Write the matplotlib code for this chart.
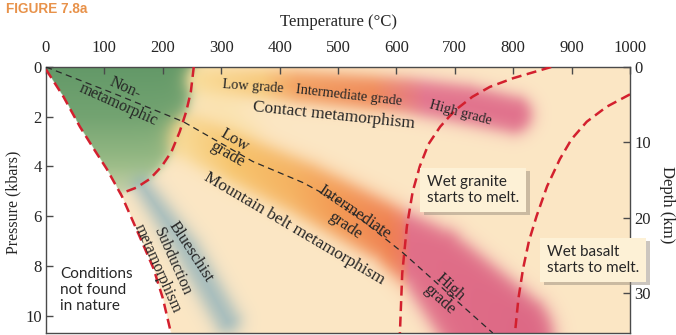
import numpy as np
import matplotlib
matplotlib.use("Agg")
import matplotlib.pyplot as plt
import matplotlib.patheffects as pe

# ---------------- data ----------------
temp_ticks = [0, 100, 200, 300, 400, 500, 600, 700, 800, 900, 1000]
pressure_ticks = [0, 2, 4, 6, 8, 10]
depth_ticks = [0, 10, 20, 30]
T_MAX = 1000
P_MAX = 10.7
KM_PER_KBAR = 3.3

# "conditions not found in nature" boundary (left red dashed)
nature_T = [0, 30, 58, 82, 104, 130, 160, 184, 200, 214]
nature_P = [0.1, 1.2, 2.4, 3.3, 4.1, 5.2, 6.8, 8.1, 9.3, 10.7]
# non-metamorphic boundary
nonmeta_T = [253, 248, 240, 229, 215, 198, 178, 155, 127]
nonmeta_P = [0.0, 1.0, 1.8, 2.6, 3.4, 4.0, 4.5, 4.85, 5.1]
# wet granite solidus
granite_T = [865, 800, 760, 730, 700, 675, 655, 640, 628, 618, 610, 606]
granite_P = [0.0, 0.45, 0.8, 1.2, 1.75, 2.4, 3.1, 4.0, 5.0, 6.4, 8.3, 10.7]
# wet basalt solidus
basalt_T = [1000, 960, 926, 900, 880, 858, 840, 827, 817, 809, 803]
basalt_P = [1.1, 1.6, 2.2, 2.9, 3.7, 4.8, 6.0, 7.0, 8.1, 9.3, 10.7]
# geotherm (black dashed)
geotherm_T = [0, 120, 235, 354, 440, 503, 610, 765]
geotherm_P = [0.0, 1.1, 2.2, 3.8, 4.65, 5.45, 7.45, 10.7]

# metamorphic bands (centre lines)
contact_T = [262, 400, 520, 620, 720, 800]
contact_P = [0.5, 0.72, 0.95, 1.15, 1.5, 1.9]
mountain_T = [248, 440, 590, 665, 780]
mountain_P = [2.85, 4.9, 6.75, 7.9, 10.9]
blueschist_T = [165, 240, 310]
blueschist_P = [4.8, 7.3, 10.2]

# ---------------- figure ----------------
W, H = 676, 335
fig = plt.figure(figsize=(W / 100, H / 100), dpi=100)
fig.patch.set_facecolor("white")
L, R, TOP, BOT = 46, 630, 67, 333
ax = fig.add_axes([L / W, 1 - BOT / H, (R - L) / W, (BOT - TOP) / H])
ax.set_xlim(0, T_MAX)
ax.set_ylim(P_MAX, 0)

SX = (R - L) / T_MAX
SY = (BOT - TOP) / P_MAX

nx, ny = 1000, 540
Tg = np.linspace(0, T_MAX, nx)
Pg = np.linspace(0, P_MAX, ny)
TT, PP = np.meshgrid(Tg, Pg)
X = TT * SX
Y = PP * SY

bg = np.array([252, 231, 197]) / 255.0
img = np.ones((ny, nx, 3)) * bg


def blend(img, col, a):
    return img * (1 - a[..., None]) + col * a[..., None]


def band_edge(xs, ys, halfw):
    px = np.asarray(xs) * SX
    py = np.asarray(ys) * SY
    best = np.full(X.shape, np.inf)
    for i in range(len(px) - 1):
        ax_, ay_, bx_, by_ = px[i], py[i], px[i + 1], py[i + 1]
        dx, dy = bx_ - ax_, by_ - ay_
        l2 = dx * dx + dy * dy
        t = np.clip(((X - ax_) * dx + (Y - ay_) * dy) / l2, 0, 1)
        d = np.hypot(X - (ax_ + t * dx), Y - (ay_ + t * dy))
        w = halfw[i] + (halfw[i + 1] - halfw[i]) * t
        best = np.minimum(best, d - w)
    return best


def colour_by_T(stops_T, stops_rgb):
    rgb = np.array(stops_rgb) / 255.0
    return np.stack([np.interp(TT, stops_T, rgb[:, k]) for k in range(3)], axis=-1)


# pale yellow glow near the top, right of the non-metamorphic field
e = band_edge([262, 300, 330], [0.3, 1.6, 2.6], [16, 22, 18])
img = blend(img, np.array([250, 226, 165]) / 255.0, 0.55 / (1 + np.exp(e / 8.0)))

# green non-metamorphic field
Tleft = np.interp(PP, nature_P, nature_T)
Tb = np.interp(PP, nonmeta_P, nonmeta_T)
e = (TT - Tb) * SX
ga = 1 / (1 + np.exp(e / 3.5)) * (PP < 5.15) * (TT > Tleft)
ga = ga * np.interp(PP, [0, 2, 3.5, 5.1], [0.92, 0.9, 0.82, 0.6])
gcol = np.stack([np.interp(PP, [0, 2, 4, 5.1], c) for c in
                 ([86, 100, 128, 170], [146, 156, 176, 196], [96, 104, 118, 150])], axis=-1) / 255.0
img = blend(img, gcol, ga)

# blueschist
e = band_edge(blueschist_T, blueschist_P, [8, 12, 12])
a = 0.72 / (1 + np.exp(e / 5.0))
img = blend(img, np.array([128, 170, 185]) / 255.0, a)

# mountain belt band
e = band_edge(mountain_T, mountain_P, [22, 26, 28, 36, 52])
a = 0.9 / (1 + np.exp(e / 5.0))
mcol = colour_by_T([240, 320, 420, 500, 585, 608, 625, 900],
                   [[248, 214, 140], [246, 192, 98], [244, 172, 86], [242, 145, 72],
                    [238, 118, 68], [236, 112, 85], [222, 98, 130], [216, 88, 125]])
img = blend(img, mcol, a)

# contact band
e = band_edge(contact_T, contact_P, [12, 15, 16, 17, 19, 18])
a = 0.9 / (1 + np.exp(e / 4.5))
ccol = colour_by_T([250, 370, 430, 560, 610, 650, 900],
                   [[250, 222, 155], [246, 196, 112], [242, 152, 85], [238, 128, 78],
                    [230, 115, 110], [224, 104, 136], [220, 96, 132]])
img = blend(img, ccol, a)

# white: conditions not found in nature
img[TT < Tleft] = 1.0

ax.imshow(img, extent=[0, T_MAX, P_MAX, 0], origin="upper", aspect="auto",
          interpolation="bilinear", zorder=0)

red = "#d3202e"
for tx, py in [(nature_T, nature_P), (nonmeta_T, nonmeta_P),
               (granite_T, granite_P), (basalt_T, basalt_P)]:
    ax.plot(tx, py, color=red, lw=1.8, dashes=(4, 2.2), zorder=3,
            solid_capstyle="butt", dash_capstyle="butt")
ax.plot(geotherm_T, geotherm_P, color="#2a2a2a", lw=0.9, dashes=(5, 3.5), zorder=3)

# ---------------- axes styling ----------------
serif = "Liberation Serif"
sans = "Lato"
tcol = "#262626"
for s in ax.spines.values():
    s.set_color("#4a4a4a")
    s.set_linewidth(1.0)
ax.xaxis.tick_top()
ax.set_xticks(temp_ticks)
ax.set_xticklabels([str(v) for v in temp_ticks], fontfamily=serif, fontsize=12, color=tcol)
ax.set_yticks(pressure_ticks)
ax.set_yticklabels([str(v) for v in pressure_ticks], fontfamily=serif, fontsize=12, color=tcol)
ax.tick_params(axis="x", direction="in", length=5, width=1, color="#4a4a4a", pad=8)
ax.tick_params(axis="y", direction="in", length=5, width=1, color="#4a4a4a", pad=3)

ax2 = ax.twinx()
ax2.set_ylim(P_MAX * KM_PER_KBAR, 0)
ax2.set_yticks(depth_ticks)
ax2.set_yticklabels([str(v) for v in depth_ticks], fontfamily=serif, fontsize=12, color=tcol)
ax2.tick_params(axis="y", direction="in", length=5, width=1, color="#4a4a4a", pad=3)
for s in ax2.spines.values():
    s.set_visible(False)

fig.text(338 / W, 1 - 22 / H, "Temperature (°C)", fontfamily=serif, fontsize=12,
         color=tcol, ha="center", va="center")
fig.text(13 / W, 1 - 202 / H, "Pressure (kbars)", fontfamily=serif, fontsize=11.5,
         color=tcol, ha="center", va="center", rotation=90)
fig.text(667 / W, 1 - 205 / H, "Depth (km)", fontfamily=serif, fontsize=12,
         color=tcol, ha="center", va="center", rotation=270)
fig.text(6 / W, 1 - 9 / H, "FIGURE 7.8a", fontfamily="Liberation Sans", fontweight="bold",
         fontsize=9.8, color="#e8924a", ha="left", va="center")


# ---------------- labels inside ----------------
def px2data(x, y):
    return (x - L) / SX, (y - TOP) / SY


def label(x, y, s, rot, size, family=serif, ha="center", ls=1.0):
    t, p = px2data(x, y)
    ax.text(t, p, s, rotation=rot, rotation_mode="anchor", ha=ha, va="center",
            fontsize=size, fontfamily=family, color=tcol, zorder=5,
            multialignment="center", linespacing=ls)


label(122, 96, "Non-\nmetamorphic", -24, 11.5, ls=1.2)
label(253, 87, "Low grade", -4, 10.3)
label(349, 96, "Intermediate grade", -6.5, 10.3)
label(460, 113, "High grade", -15, 10.3)
label(334, 116, "Contact metamorphism", -6, 12.5)
label(231, 147, "Low\ngrade", -30, 12)
label(294, 229, "Mountain belt metamorphism", -30.5, 12.5)
label(350, 219, "Intermediate\ngrade", -34, 12)
label(445, 293, "High\ngrade", -42, 12)
label(191, 252, "Blueschist", -57, 12)
label(165, 265, "Subduction\nmetamorphism", -66, 11.5)

ax.text(*px2data(60, 290), "Conditions\nnot found\nin nature", ha="left", va="center",
        fontsize=11, fontfamily=sans, color=tcol, linespacing=1.15, zorder=5)

for (x, y, s) in [(427, 190, "Wet granite\nstarts to melt."),
                  (547, 260, "Wet basalt\nstarts to melt.")]:
    txt = ax.text(*px2data(x, y), s, ha="left", va="center", fontsize=11, fontfamily=sans,
                  color=tcol, linespacing=1.2, zorder=6,
                  bbox=dict(boxstyle="square,pad=0.45", fc="#fdf1d6", ec="none"))
    txt.get_bbox_patch().set_path_effects(
        [pe.SimplePatchShadow(offset=(2.5, -2.5), shadow_rgbFace="#9a8f80", alpha=0.5), pe.Normal()])

fig.savefig("out.png", dpi=100, facecolor="white")
